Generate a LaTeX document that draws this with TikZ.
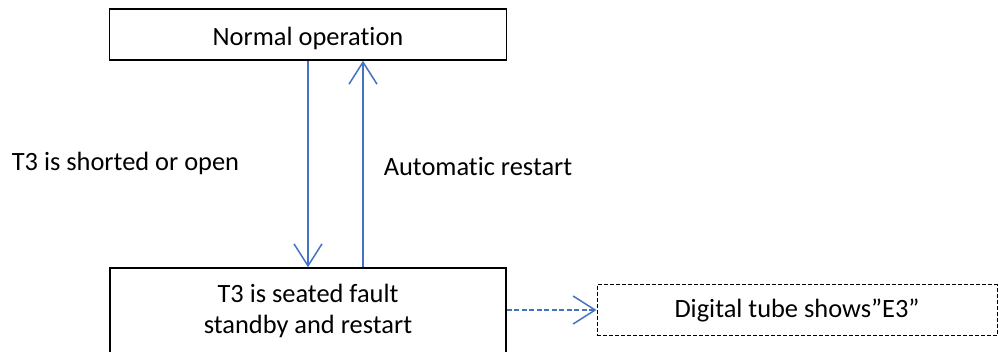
\documentclass[tikz,border=0pt]{standalone}
\usepackage{fontspec}
\setmainfont{Carlito}[Ligatures={NoCommon}]
\usetikzlibrary{arrows.meta}
\definecolor{lineblue}{RGB}{68,114,196}

\begin{document}
\begin{tikzpicture}[x=1pt,y=-1pt,
  every node/.style={font=\fontsize{26.4}{31}\selectfont},
  box/.style={draw,line width=1.5pt,minimum width=397pt,minimum height=51pt,inner sep=0pt,align=center},
  flow/.style={lineblue,line width=1.5pt,-{Straight Barb[length=22pt,width=28pt]}}]
\useasboundingbox (0,0) rectangle (999,351);
\clip (0,0) rectangle (999,351);

\node[box,text height=21pt,text depth=0pt] (normal) at (308,34.5) {Normal operation};
\node[box,minimum width=396pt,minimum height=86pt] (fault) at (308,311) {T3 is seated fault\\standby and restart};
\node[box,line width=1pt,dash pattern=on 4pt off 2pt,minimum width=400pt] (digital) at (797,310) {Digital tube shows”E3”};

\node[anchor=base] (shorted) at (125.5,170) {T3 is shorted or open};
\node[anchor=base] (restart) at (478,175) {Automatic restart};

\draw[flow] (normal.south) -- (normal.south |- fault.north);
\draw[flow] ([xshift=55pt]fault.north) -- ([xshift=55pt]fault.north |- normal.south);
\draw[flow,dash pattern=on 5pt off 2.5pt] (digital.west -| fault.east) -- (digital.west);

\end{tikzpicture}
\end{document}
